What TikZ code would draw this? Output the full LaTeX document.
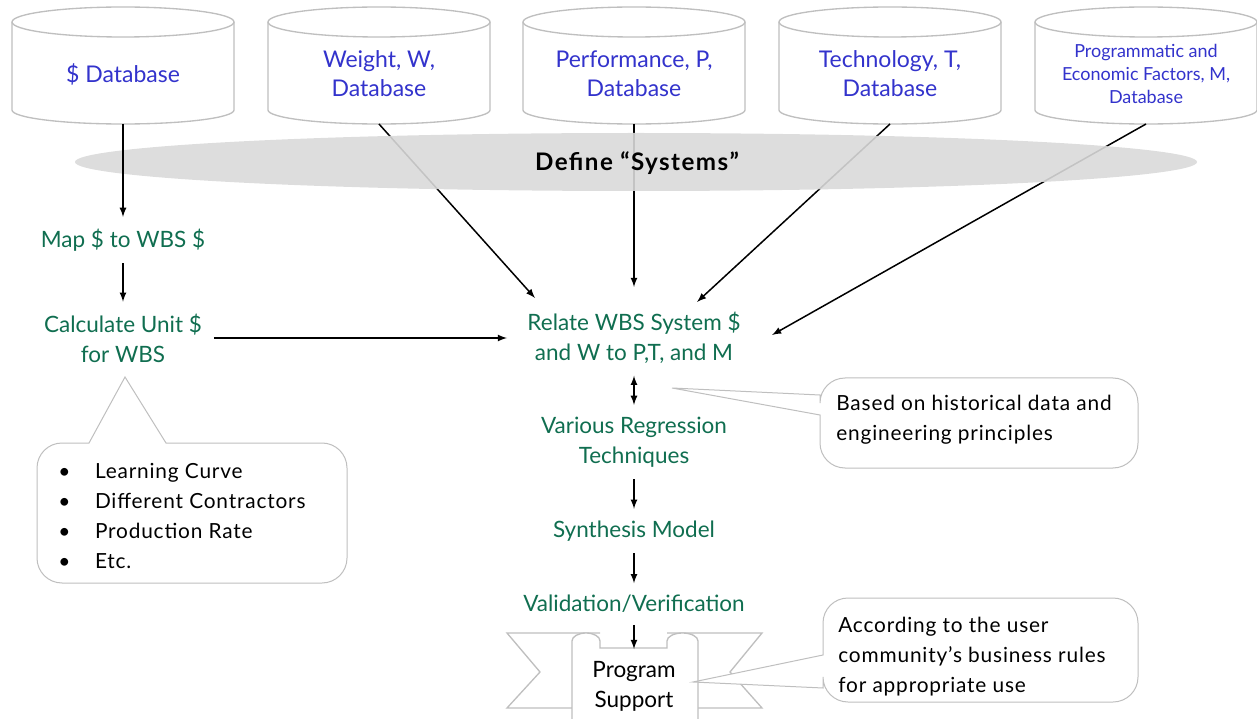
\documentclass[tikz,border=0pt]{standalone}
\usepackage{fontspec}
\setmainfont{Lato}
\usetikzlibrary{calc}
\definecolor{dbblue}{RGB}{51,51,204}
\definecolor{wbsgreen}{RGB}{16,110,80}
\definecolor{rimgray}{RGB}{191,191,191}
\definecolor{hazegray}{RGB}{217,217,217}
\tikzset{>=latex}
\tikzset{
  dbline/.style={draw=rimgray, line width=0.8pt, fill=white},
  dbtext/.style={text=dbblue, align=center, font=\fontsize{13.8}{17.4}\selectfont},
  steptext/.style={text=wbsgreen, align=center, inner sep=7pt, font=\fontsize{13.5}{18}\selectfont},
  notebox/.style={draw=rimgray, line width=0.6pt, fill=white},
  notetext/.style={align=left, inner sep=0pt, font=\fontsize{12.5}{18}\selectfont\addfontfeatures{LetterSpace=4}},
  flow/.style={->, line width=0.9pt},
}

% database cylinder: [node opts]{name}{x}{text}
\newcommand{\dbcylinder}[4][]{%
  \begin{scope}[shift={(#3,0)}]
    \draw[dbline] (-111,22) -- (-111,110) arc[start angle=180, end angle=0, x radius=111, y radius=14] -- (111,22);
    \draw[dbline] (0,22) ellipse [x radius=111, y radius=15];
  \end{scope}
  \node[dbtext,#1] (#2) at (#3,74) {#4};
  \coordinate (#2-b) at (#3,124);
}

\begin{document}
\begin{tikzpicture}[x=0.6pt, y=-0.6pt]
    \useasboundingbox (0,0) rectangle (1257,719);

    % Databases
    \dbcylinder{usd}{123}{\$ Database}
    \dbcylinder{wdb}{379}{Weight, W,\\Database}
    \dbcylinder{pdb}{634}{Performance, P,\\Database}
    \dbcylinder{tdb}{890}{Technology, T,\\Database}
    \dbcylinder[font=\fontsize{10.8}{13.8}\selectfont]{mdb}{1146}{Programmatic and\\Economic Factors, M,\\Database}

    % Steps
    \node[steptext] (map) at (123,240) {Map \$ to WBS \$};
    \node[steptext] (unit) at (123,338) {Calculate Unit \$\\for WBS};
    \node[steptext] (relate) at (634,338) {Relate WBS System \$\\and W to P,T, and M};
    \node[steptext] (regress) at (634,442) {Various Regression\\Techniques};
    \node[steptext] (synth) at (634,531) {Synthesis Model};
    \node[steptext] (valid) at (634,604) {Validation/Verification};

    % Database inputs
    \draw[flow] (wdb-b) -- ($(relate)+(-99,-40)$);
    \draw[flow] (pdb-b) -- ($(relate)+(0,-51)$);
    \draw[flow] (tdb-b) -- ($(relate)+(63,-36)$);
    \draw[flow] (mdb-b) -- ($(relate)+(138,-3)$);

    % Define "Systems"
    \fill[hazegray, fill opacity=0.9] (636,162) ellipse [x radius=561, y radius=29];
    \node[font=\fontsize{14.5}{16}\selectfont\bfseries\addfontfeatures{LetterSpace=6}] (systems) at (637,163) {Define “Systems”};

    % Cost path
    \draw[flow] (usd-b) -- (map);
    \draw[flow] (map) -- (unit);
    \draw[flow] (unit) -- ($(relate)+(-127,0)$);

    % Regression chain
    \draw[<->, line width=0.9pt] (relate) -- (regress);
    \draw[flow] (regress) -- (synth);
    \draw[flow] (synth) -- (valid);

    % Ribbon
    \draw[dbline] (600,633) -- (507,633) -- (540,672) -- (507,708) -- (572,708);
    \draw[dbline] (667,633) -- (762,633) -- (730,672) -- (762,708) -- (698,708);
    \draw[dbline] (572,719) -- (572,641) arc[start angle=180, end angle=360, x radius=14, y radius=8]
        -- (600,648) -- (667,648) -- (667,641) arc[start angle=180, end angle=360, x radius=15.5, y radius=8]
        -- (698,719);
    \node[align=center, inner sep=7pt, font=\fontsize{13.5}{18}\selectfont] (support) at (634,686) {Program\\Support};
    \draw[flow] (valid) -- (support);

    % Callouts
    \draw[notebox] (125,377) -- (89,443) [rounded corners=15] -- (37,443) -- (37,583) -- (347,583) -- (347,443)
        [sharp corners] -- (166,443) -- cycle;
    \node[notetext, anchor=west] (factors) at (58,516)
        {\makebox[22pt][l]{\textbullet}Learning Curve\\
         \makebox[22pt][l]{\textbullet}Different Contractors\\
         \makebox[22pt][l]{\textbullet}Production Rate\\
         \makebox[22pt][l]{\textbullet}Etc.};

    \draw[notebox] (672,388) -- (820,395) [rounded corners=15] -- (820,378) -- (1138,378) -- (1138,468) -- (820,468)
        [sharp corners] -- (820,415) -- cycle;
    \node[notetext, anchor=west] (basis) at (836,419.5) {Based on historical data and\\engineering principles};

    \draw[notebox] (693,682) -- (823,655) [rounded corners=15] -- (823,598) -- (1138,598) -- (1138,702) -- (823,702)
        [sharp corners] -- (823,688) -- cycle;
    \node[notetext, anchor=west] (rules) at (838,656.5) {According to the user\\community’s business rules\\for appropriate use};
\end{tikzpicture}
\end{document}
